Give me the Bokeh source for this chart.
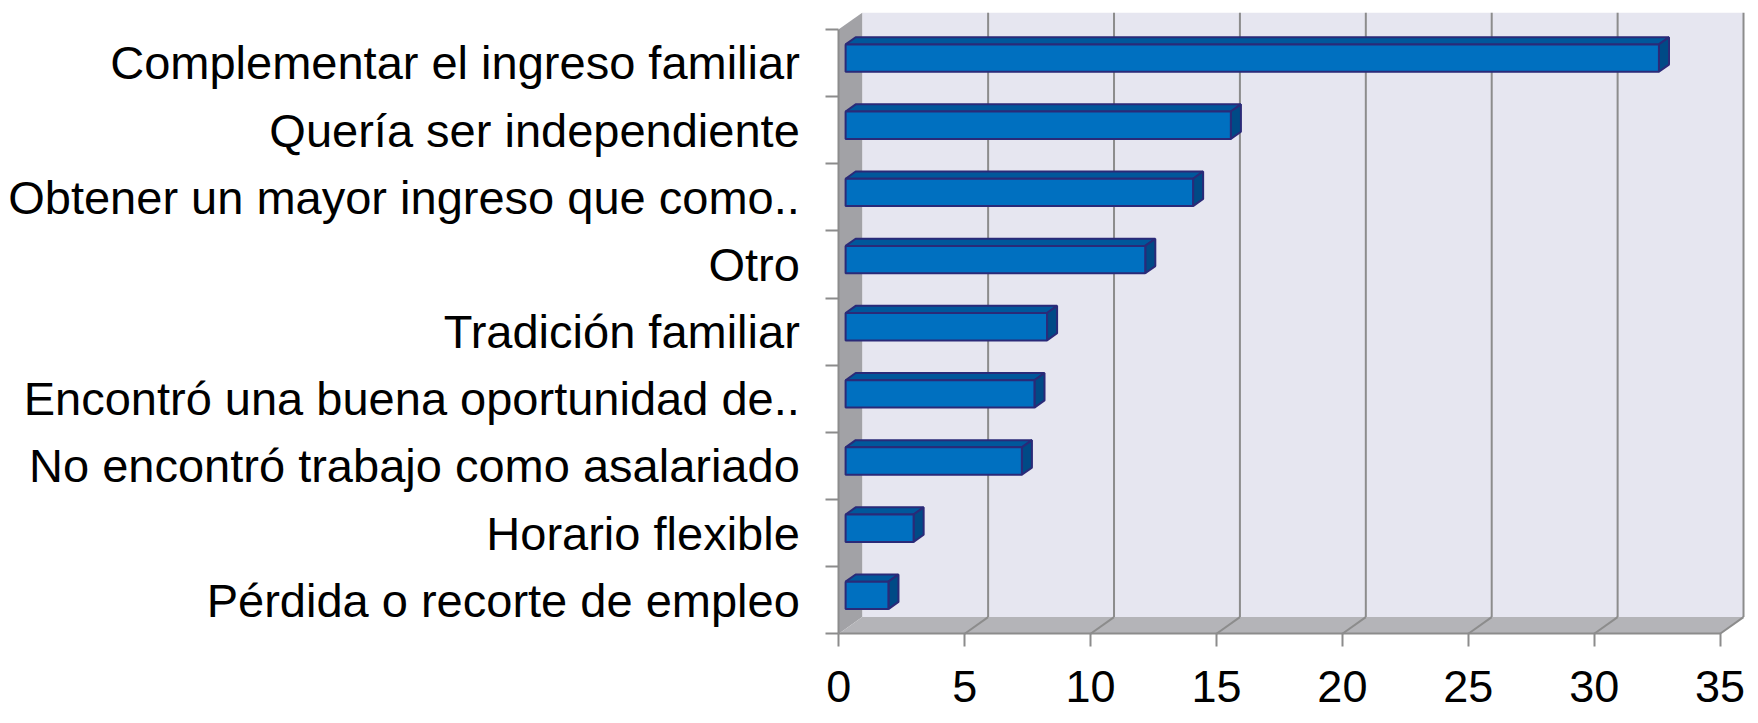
from bokeh.plotting import figure
from bokeh.models import FixedTicker, Range1d, ColumnDataSource
from bokeh.embed import file_html
from bokeh.resources import INLINE

# ---------------- data ----------------
categories = [
    "Complementar el ingreso familiar",
    "Quería ser independiente",
    "Obtener un mayor ingreso que como..",
    "Otro",
    "Tradición familiar",
    "Encontró una buena oportunidad de..",
    "No encontró trabajo como asalariado",
    "Horario flexible",
    "Pérdida o recorte de empleo",
]
values = [32.3, 15.3, 13.8, 11.9, 8.0, 7.5, 7.0, 2.7, 1.7]
x_ticks = [0, 5, 10, 15, 20, 25, 30, 35]
x_tick_labels = ["0", "5", "10", "15", "20", "25", "30", "35"]

# ---------------- geometry / style ----------------
W, HGT = 1758, 723
PX_PER_X = 25.18      # pixels per value unit
PX_PER_CAT = 67.16    # pixels per category band
ORIGIN_X = 838.3      # pixel position of value 0 (front plane)
ORIGIN_Y = 633.3      # pixel position of the front floor edge
DX = 0.93             # depth offset of the 3D box, x units
DY = 0.2487           # depth offset of the 3D box, category units
F0, F1 = 0.29, 0.72   # bar depth (front / back fraction)
H = 0.204             # half bar thickness in category units
X_MAX = x_ticks[-1]
n = len(categories)
centers = [n - 1 - i + 0.5 for i in range(n)]

GRID = "#8c8c8c"
FONT = "Liberation Sans"

p = figure(
    width=W, height=HGT,
    x_range=Range1d(-ORIGIN_X / PX_PER_X, (W - ORIGIN_X) / PX_PER_X),
    y_range=Range1d(-(HGT - ORIGIN_Y) / PX_PER_CAT, ORIGIN_Y / PX_PER_CAT),
    output_backend="svg", toolbar_location=None,
    min_border_left=0, min_border_right=0,
    min_border_top=0, min_border_bottom=0,
)
p.outline_line_color = None
p.grid.visible = False
p.background_fill_color = "white"
p.border_fill_color = "white"

# walls and floor
p.patch([DX, X_MAX + DX, X_MAX + DX, DX], [DY, DY, n + DY, n + DY],
        fill_color="#e6e6f0", line_color=None)
p.patch([0, DX, DX, 0], [0, DY, n + DY, n],
        fill_color="#a2a2a6", line_color=None)
p.patch([0, X_MAX, X_MAX + DX, DX], [0, 0, DY, DY],
        fill_color="#b4b4b8", line_color=None)

# gridlines on back wall and floor
gt = x_ticks[1:]
p.segment(x0=[t + DX for t in gt], y0=[DY] * len(gt),
          x1=[t + DX for t in gt], y1=[n + DY] * len(gt),
          line_color=GRID, line_width=2)
p.segment(x0=gt, y0=[0] * len(gt),
          x1=[t + DX for t in gt], y1=[DY] * len(gt),
          line_color=GRID, line_width=2)

# bars
front = ColumnDataSource(dict(
    left=[F0 * DX] * n,
    right=[F0 * DX + v for v in values],
    bottom=[c - H + F0 * DY for c in centers],
    top=[c + H + F0 * DY for c in centers],
))
top_xs = [[F0 * DX, F0 * DX + v, F1 * DX + v, F1 * DX] for v in values]
top_ys = [[c + H + F0 * DY, c + H + F0 * DY, c + H + F1 * DY, c + H + F1 * DY] for c in centers]
side_xs = [[F0 * DX + v, F1 * DX + v, F1 * DX + v, F0 * DX + v] for v in values]
side_ys = [[c - H + F0 * DY, c - H + F1 * DY, c + H + F1 * DY, c + H + F0 * DY] for c in centers]

OUT = "#2a2a78"
p.patches(top_xs, top_ys, fill_color="#00579b", line_color=OUT, line_width=2)
p.patches(side_xs, side_ys, fill_color="#004a86", line_color=OUT, line_width=2)
p.quad(left="left", right="right", bottom="bottom", top="top", source=front,
       fill_color="#0070c0", line_color=OUT, line_width=2)

# x axis (pinned at the front floor edge)
xa = p.xaxis[0]
xa.fixed_location = 0
xa.ticker = FixedTicker(ticks=x_ticks, minor_ticks=[])
xa.major_label_overrides = {t: l for t, l in zip(x_ticks, x_tick_labels)}
xa.bounds = (0, X_MAX)
xa.axis_line_color = GRID
xa.axis_line_width = 2
xa.major_tick_line_color = GRID
xa.major_tick_line_width = 2
xa.major_tick_out = 13
xa.major_tick_in = 0
xa.minor_tick_line_color = None
xa.major_label_text_font = FONT
xa.major_label_text_font_size = "45px"
xa.major_label_text_color = "black"
xa.major_label_standoff = 24

# y axis (pinned at the front left edge)
ya = p.yaxis[0]
ya.fixed_location = 0
ya.ticker = FixedTicker(ticks=centers, minor_ticks=list(range(n + 1)))
ya.major_label_overrides = {c: name for c, name in zip(centers, categories)}
ya.bounds = (0, n)
ya.axis_line_color = GRID
ya.axis_line_width = 2
ya.major_tick_out = 0
ya.major_tick_in = 0
ya.major_tick_line_color = None
ya.minor_tick_out = 13
ya.minor_tick_in = 0
ya.minor_tick_line_color = GRID
ya.minor_tick_line_width = 2
ya.major_label_text_font = FONT
ya.major_label_text_font_size = "47px"
ya.major_label_text_color = "black"
ya.major_label_standoff = 26

open("out.html", "w").write(file_html(p, INLINE))
